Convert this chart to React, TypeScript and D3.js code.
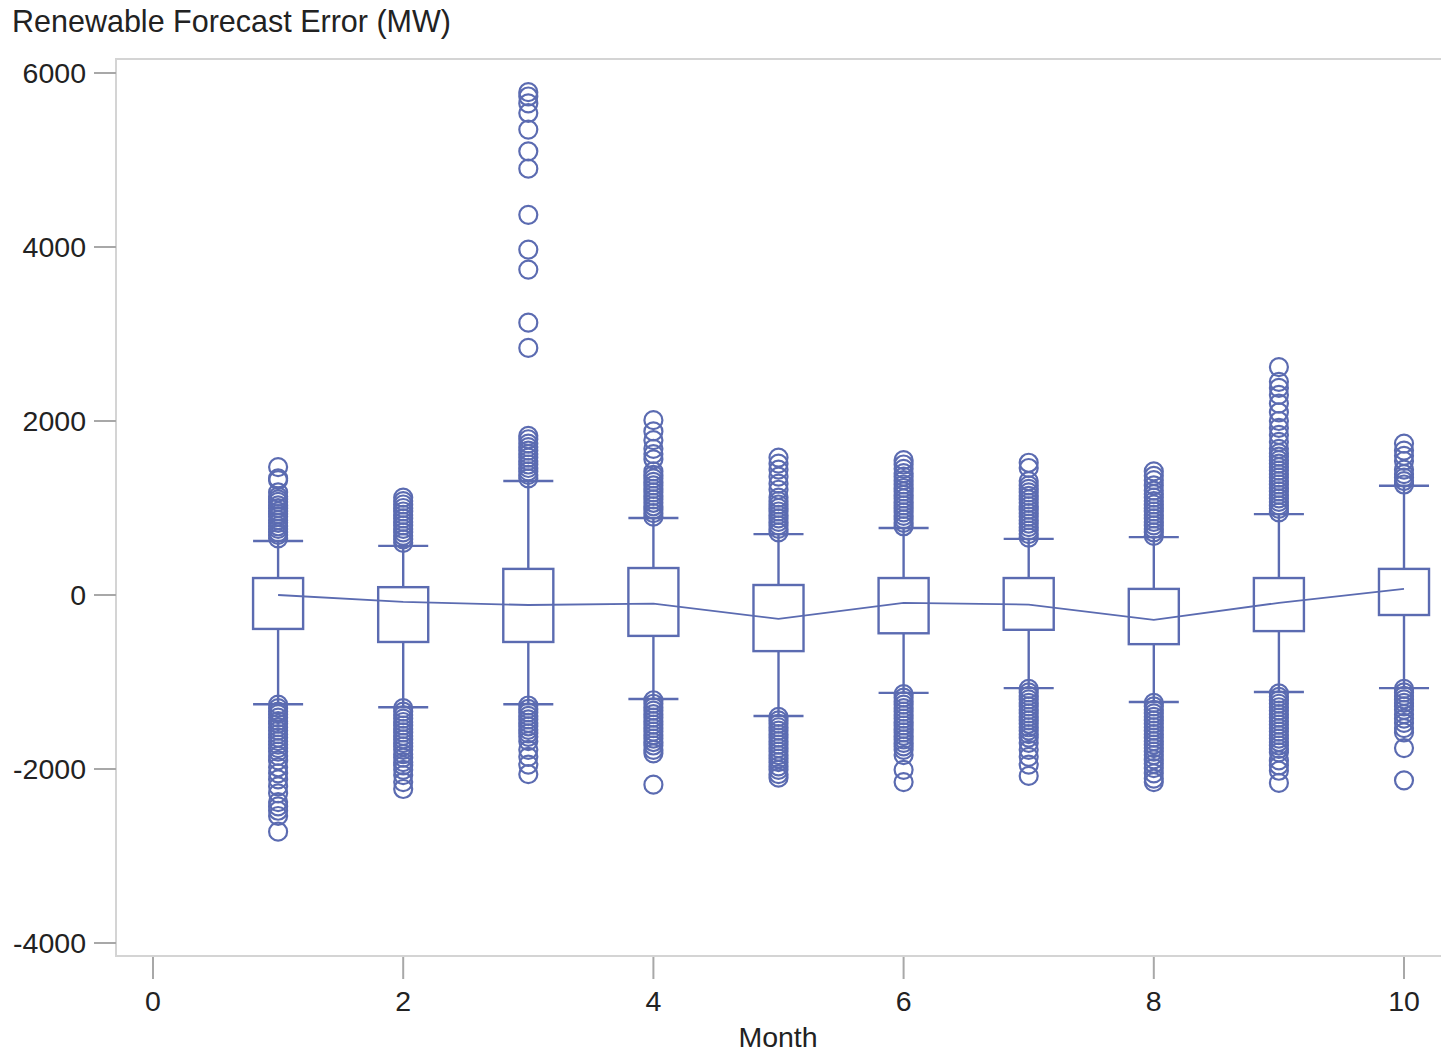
import React, { useEffect, useRef } from 'react';
import * as d3 from 'd3';

// Box statistics per month (MW)
const months = [1, 2, 3, 4, 5, 6, 7, 8, 9, 10];
const q1 = [-390, -540, -540, -470, -645, -440, -400, -565, -415, -230];
const q3 = [195, 90, 300, 310, 115, 195, 195, 70, 195, 300];
const whiskerLow = [-1255, -1290, -1255, -1195, -1390, -1125, -1070, -1230, -1115, -1070];
const whiskerHigh = [620, 565, 1310, 885, 700, 770, 645, 665, 930, 1255];
const means = [0, -80, -115, -100, -275, -90, -110, -285, -90, 70];

// Outliers per month
const outliers = [
  [650, 690, 720, 760, 790, 830, 860, 900, 930, 960, 1000, 1030, 1070, 1100, 1130, 1180, 1320, 1340, 1470,
    -1260, -1300, -1340, -1370, -1410, -1450, -1480, -1520, -1560, -1600, -1640, -1680, -1720, -1760, -1800, -1850,
    -1900, -1980, -2050, -2120, -2200, -2280, -2380, -2430, -2480, -2540, -2720],
  [600, 640, 680, 720, 760, 800, 840, 880, 920, 960, 1000, 1040, 1080, 1120,
    -1300, -1340, -1380, -1420, -1460, -1500, -1540, -1580, -1620, -1660, -1700, -1740, -1780, -1830, -1870,
    -1920, -1960, -2010, -2070, -2150, -2230],
  [1340, 1380, 1420, 1460, 1500, 1540, 1580, 1620, 1660, 1700, 1740, 1790, 1830, 2840, 3130, 3740, 3970, 4370,
    4900, 5100, 5350, 5540, 5650, 5730, 5780,
    -1270, -1310, -1350, -1390, -1430, -1470, -1510, -1550, -1590, -1630, -1680, -1780, -1860, -1950, -2060],
  [900, 940, 980, 1020, 1060, 1100, 1140, 1180, 1220, 1260, 1300, 1340, 1380, 1420, 1560, 1620, 1680, 1780, 1880, 2010,
    -1210, -1250, -1290, -1330, -1370, -1410, -1450, -1490, -1530, -1570, -1610, -1650, -1690, -1730, -1780, -1820, -2180],
  [720, 760, 800, 840, 880, 920, 960, 1000, 1040, 1080, 1120, 1210, 1280, 1360, 1440, 1510, 1580,
    -1400, -1440, -1480, -1520, -1560, -1600, -1640, -1680, -1720, -1760, -1800, -1840, -1880, -1920, -1970, -2010,
    -2060, -2100],
  [790, 830, 870, 910, 950, 990, 1030, 1070, 1110, 1150, 1190, 1230, 1270, 1320, 1360, 1400, 1450, 1500, 1550,
    -1140, -1180, -1220, -1260, -1300, -1340, -1380, -1420, -1460, -1500, -1540, -1580, -1620, -1660, -1700, -1740,
    -1780, -1840, -2010, -2150],
  [660, 700, 740, 780, 820, 860, 900, 940, 980, 1020, 1060, 1100, 1140, 1180, 1220, 1260, 1310, 1460, 1520,
    -1080, -1120, -1160, -1200, -1240, -1280, -1320, -1360, -1400, -1440, -1480, -1520, -1560, -1600, -1640, -1700,
    -1780, -1860, -1950, -2080],
  [680, 720, 760, 800, 840, 880, 920, 960, 1000, 1040, 1080, 1120, 1160, 1200, 1260, 1320, 1370, 1420,
    -1240, -1280, -1320, -1360, -1400, -1440, -1480, -1520, -1560, -1600, -1640, -1680, -1720, -1760, -1800, -1840,
    -1890, -1940, -1990, -2050, -2110, -2150],
  [950, 990, 1030, 1070, 1110, 1150, 1190, 1230, 1270, 1310, 1350, 1390, 1430, 1470, 1510, 1550, 1590, 1630, 1680,
    1760, 1840, 1920, 2000, 2100, 2200, 2300, 2380, 2450, 2620,
    -1130, -1170, -1210, -1250, -1290, -1330, -1370, -1410, -1450, -1490, -1530, -1570, -1610, -1650, -1690, -1730,
    -1770, -1810, -1900, -1960, -2020, -2160],
  [1270, 1310, 1350, 1390, 1440, 1540, 1600, 1660, 1740,
    -1080, -1120, -1160, -1200, -1240, -1280, -1320, -1370, -1420, -1470, -1530, -1580, -1760, -2130]
];

const yTicks = [-4000, -2000, 0, 2000, 4000, 6000];
const xTicks = [0, 2, 4, 6, 8, 10];

const App = () => {
  const chartRef = useRef<HTMLDivElement>(null);

  useEffect(() => {
    document.body.style.margin = '0';
    document.body.style.overflow = 'hidden';

    const width = 1441;
    const height = 1056;
    const color = '#5b6bb1';
    const font = '"Liberation Sans", Arial, sans-serif';
    const frame = { left: 116, top: 59, bottom: 956 };

    d3.select(chartRef.current).select('svg').remove();

    const svg = d3.select(chartRef.current)
      .append('svg')
      .attr('width', width)
      .attr('height', height)
      .style('display', 'block')
      .style('font-family', font);

    const x = d3.scaleLinear().domain([0, 10]).range([153, 1404]);
    const y = d3.scaleLinear().domain([-4000, 6000]).range([943, 73]);
    const boxW = x(0.4) - x(0);

    // Title
    svg.append('text')
      .attr('x', 12)
      .attr('y', 32)
      .attr('fill', '#222')
      .attr('font-size', '30.5px')
      .text('Renewable Forecast Error (MW)');

    // Frame
    svg.append('path')
      .attr('d', `M${width + 10},${frame.top}H${frame.left}V${frame.bottom}H${width + 10}`)
      .attr('fill', 'none')
      .attr('stroke', '#d4d4d4')
      .attr('stroke-width', 2);

    // Y axis
    const yAxis = svg.append('g');
    yAxis.selectAll('line')
      .data(yTicks)
      .enter()
      .append('line')
      .attr('x1', 94)
      .attr('x2', frame.left)
      .attr('y1', d => y(d))
      .attr('y2', d => y(d))
      .attr('stroke', '#a8a8a8')
      .attr('stroke-width', 2);
    yAxis.selectAll('text')
      .data(yTicks)
      .enter()
      .append('text')
      .attr('x', 86)
      .attr('y', d => y(d))
      .attr('dy', '0.36em')
      .attr('text-anchor', 'end')
      .attr('fill', '#222')
      .attr('font-size', '28.5px')
      .text(d => d);

    // X axis
    const xAxis = svg.append('g');
    xAxis.selectAll('line')
      .data(xTicks)
      .enter()
      .append('line')
      .attr('x1', d => x(d))
      .attr('x2', d => x(d))
      .attr('y1', frame.bottom + 1)
      .attr('y2', 979)
      .attr('stroke', '#a8a8a8')
      .attr('stroke-width', 2);
    xAxis.selectAll('text')
      .data(xTicks)
      .enter()
      .append('text')
      .attr('x', d => x(d))
      .attr('y', 1011)
      .attr('text-anchor', 'middle')
      .attr('fill', '#222')
      .attr('font-size', '28.5px')
      .text(d => d);

    svg.append('text')
      .attr('x', 778)
      .attr('y', 1047)
      .attr('text-anchor', 'middle')
      .attr('fill', '#222')
      .attr('font-size', '28.5px')
      .text('Month');

    // Outliers
    const pts = outliers.flatMap((arr, i) => arr.map(v => ({ m: months[i], v })));
    svg.append('g')
      .selectAll('circle')
      .data(pts)
      .enter()
      .append('circle')
      .attr('cx', d => x(d.m))
      .attr('cy', d => y(d.v))
      .attr('r', 9)
      .attr('fill', 'none')
      .attr('stroke', color)
      .attr('stroke-width', 2.2);

    // Boxes
    const boxes = svg.append('g')
      .selectAll('g')
      .data(months)
      .enter()
      .append('g');

    boxes.append('line')
      .attr('x1', d => x(d))
      .attr('x2', d => x(d))
      .attr('y1', (d, i) => y(whiskerHigh[i]))
      .attr('y2', (d, i) => y(q3[i]))
      .attr('stroke', color)
      .attr('stroke-width', 2.4);
    boxes.append('line')
      .attr('x1', d => x(d))
      .attr('x2', d => x(d))
      .attr('y1', (d, i) => y(q1[i]))
      .attr('y2', (d, i) => y(whiskerLow[i]))
      .attr('stroke', color)
      .attr('stroke-width', 2.4);
    boxes.append('line')
      .attr('x1', d => x(d) - boxW / 2)
      .attr('x2', d => x(d) + boxW / 2)
      .attr('y1', (d, i) => y(whiskerHigh[i]))
      .attr('y2', (d, i) => y(whiskerHigh[i]))
      .attr('stroke', color)
      .attr('stroke-width', 2.4);
    boxes.append('line')
      .attr('x1', d => x(d) - boxW / 2)
      .attr('x2', d => x(d) + boxW / 2)
      .attr('y1', (d, i) => y(whiskerLow[i]))
      .attr('y2', (d, i) => y(whiskerLow[i]))
      .attr('stroke', color)
      .attr('stroke-width', 2.4);
    boxes.append('rect')
      .attr('x', d => x(d) - boxW / 2)
      .attr('y', (d, i) => y(q3[i]))
      .attr('width', boxW)
      .attr('height', (d, i) => y(q1[i]) - y(q3[i]))
      .attr('fill', 'white')
      .attr('stroke', color)
      .attr('stroke-width', 2.4);

    // Mean connect line
    const line = d3.line<number>()
      .x((d, i) => x(months[i]))
      .y(d => y(d));
    svg.append('path')
      .datum(means)
      .attr('d', line)
      .attr('fill', 'none')
      .attr('stroke', color)
      .attr('stroke-width', 1.8);
  }, []);

  return (
    <div ref={chartRef}></div>
  );
};

export default App;
